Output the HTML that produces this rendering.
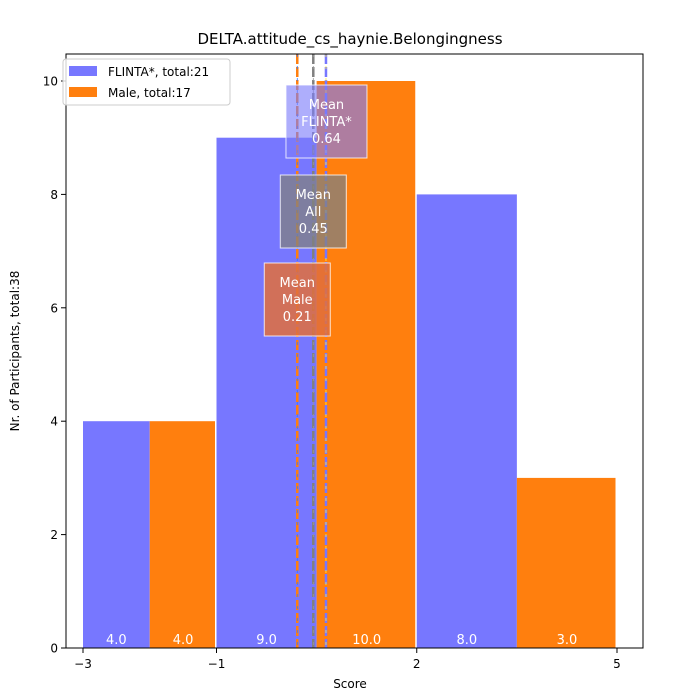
<!DOCTYPE html>
<html><head><meta charset="utf-8"><style>
html,body{margin:0;padding:0;background:#fff;overflow:hidden;font-family:"Liberation Sans","DejaVu Sans",sans-serif}
svg{display:block}
svg text{font-family:"DejaVu Sans","Liberation Sans",sans-serif}
</style></head><body>
<svg id="chart" width="700" height="700">
<rect width="700" height="700" fill="#fff"/>
<text x="350" y="44" text-anchor="middle" font-size="15">DELTA.attitude_cs_haynie.Belongingness</text>
<g id="bars"></g><g id="means"></g>
<rect x="66" y="54" width="577" height="594" fill="none" stroke="#000" stroke-width="1"/>
<g id="xticks"></g><g id="yticks"></g>
<text x="350" y="688" text-anchor="middle" font-size="12">Score</text>
<text transform="translate(19,351) rotate(-90)" text-anchor="middle" font-size="12">Nr. of Participants, total:38</text>
<g>
<rect x="63" y="59" width="167" height="46" rx="3" fill="#fff" fill-opacity="0.8" stroke="#ccc"/>
<rect x="69" y="66" width="28" height="10" fill="#7777ff"/>
<text x="108" y="76" font-size="12">FLINTA*, total:21</text>
<rect x="69" y="87" width="28" height="10" fill="#ff7f0e"/>
<text x="108" y="97" font-size="12">Male, total:17</text>
</g>
</svg>
<script>
const binEdges=[-3,-1,2,5];
const flintaCounts=[4,9,8];
const maleCounts=[4,10,3];
const meanLabels=["FLINTA*","All","Male"];
const meanValues=[0.64,0.45,0.21];
const xTicks=[-3,-1,2,5];
const yTicks=[0,2,4,6,8,10];
const NS="http://www.w3.org/2000/svg";
const X=v=>83+(v+3)*66.75, Y=v=>648-v*56.7;
function mk(t,a,p){const e=document.createElementNS(NS,t);for(const k in a)e.setAttribute(k,a[k]);p.appendChild(e);return e;}
const bars=document.getElementById('bars');
for(let i=0;i<flintaCounts.length;i++){
 const a=binEdges[i],b=binEdges[i+1],m=(a+b)/2;
 const f=mk('rect',{x:X(a),y:Y(flintaCounts[i]),width:X(m)-X(a),height:Y(0)-Y(flintaCounts[i]),fill:'#7777ff'},bars);
 
 
 const o=mk('rect',{x:X(m),y:Y(maleCounts[i]),width:X(b)-X(m)-1.5,height:Y(0)-Y(maleCounts[i]),fill:'#ff7f0e'},bars);
 
 
 [[flintaCounts[i],(X(a)+X(m))/2],[maleCounts[i],(X(m)+X(b))/2]].forEach(([v,cx])=>{
  const t=mk('text',{x:cx,y:644,'text-anchor':'middle','font-size':13,fill:'#fff'},bars);t.textContent=v.toFixed(1);
  
  
 });
}
const means=document.getElementById('means');
const lineCol=[['#7777ff','#ffee44'],['#808080','#999'],['#ff7f0e','#3377ff']];
const boxFill=['rgba(125,125,250,0.62)','rgba(128,128,128,0.75)','rgba(225,110,60,0.85)'];
const boxY=[85,175,263];
for(let i=0;i<meanValues.length;i++){
 const x=X(meanValues[i]);
 const l=mk('line',{x1:x,x2:x,y1:54,y2:648,stroke:lineCol[i][0],'stroke-width':2.5,'stroke-dasharray':'10,3'},means);
 
 
 mk('line',{x1:x,x2:x,y1:54,y2:648,stroke:lineCol[i][1],'stroke-width':0.8,'stroke-dasharray':'3,9'},means);
}
for(let i=0;i<meanValues.length;i++){
 const x=X(meanValues[i]);
 const w=i==0?81:66;
 const bx=i==0?x-40:x-33;
 const g=mk('g',{},means);
 
 
 mk('rect',{x:bx,y:boxY[i],width:w,height:73,fill:boxFill[i],stroke:'#fff','stroke-opacity':0.8},g);
 ['Mean',meanLabels[i],meanValues[i].toFixed(2)].forEach((s,k)=>{
  const t=mk('text',{x:bx+w/2,y:boxY[i]+24+k*17,'text-anchor':'middle','font-size':13,fill:'#fff'},g);t.textContent=s;
 });
}
const xt=document.getElementById('xticks');
xTicks.forEach(v=>{
 mk('line',{x1:X(v),x2:X(v),y1:648,y2:653,stroke:'#000'},xt);
 const t=mk('text',{x:X(v),y:668,'text-anchor':'middle','font-size':12},xt);t.textContent=v<0?'\u2212'+(-v):v;
 
 
});
const yt=document.getElementById('yticks');
yTicks.forEach(v=>{
 mk('line',{x1:61,x2:66,y1:Y(v),y2:Y(v),stroke:'#000'},yt);
 const t=mk('text',{x:58,y:Y(v)+4.5,'text-anchor':'end','font-size':12},yt);t.textContent=v;
 
 
});
</script>
</body></html>
